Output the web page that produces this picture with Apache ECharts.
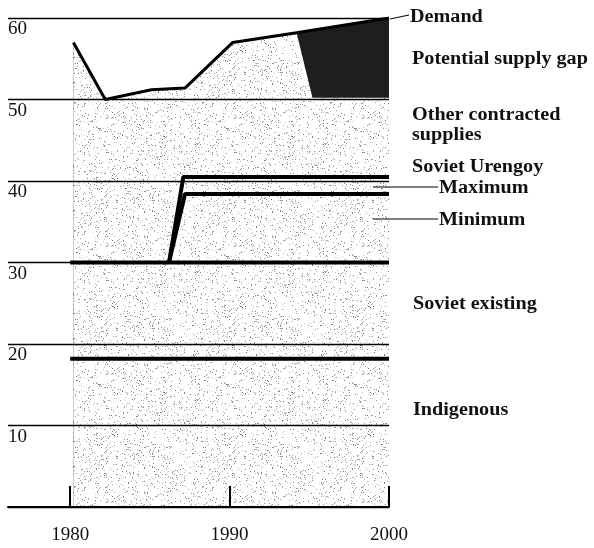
<!DOCTYPE html>
<html>
<head>
<meta charset="utf-8">
<script src="https://cdn.jsdelivr.net/npm/echarts@6/dist/echarts.min.js"></script>
<style>
html,body{margin:0;padding:0;background:#fff;}
#chart{width:594px;height:548px;}
</style>
</head>
<body>
<div id="chart"></div>
<script>
// ---- data ----
const demandYears = [1980.2, 1982.2, 1985.1, 1987.2, 1990.2, 1994.2, 2000];
const demandValues = [57, 50, 51.2, 51.4, 57, 58.2, 60];
const supplyYears = [1980.2, 1982.2, 1985.1, 1987.2, 1990.2, 1994.2, 1995.2, 2000];
const supplyValues = [57, 50, 51.2, 51.4, 57, 58.2, 50.2, 50.2];
const existingYears = [1980, 2000];
const existingValues = [30, 30];
const indigenousYears = [1980, 2000];
const indigenousValues = [18.2, 18.2];
const urengoyMaxYears = [1986.2, 1987.1, 2000];
const urengoyMaxValues = [30, 40.5, 40.5];
const urengoyMinYears = [1986.2, 1987.2, 2000];
const urengoyMinValues = [30, 38.4, 38.4];
const xTickValues = [1980, 1990, 2000];
const yTickValues = [10, 20, 30, 40, 50, 60];
const seriesLabels = ['Demand', 'Potential supply gap', 'Other contracted', 'supplies',
  'Soviet Urengoy', 'Maximum', 'Minimum', 'Soviet existing', 'Indigenous'];

function pairs(xs, ys) { return xs.map((x, i) => [x, ys[i]]); }

// stipple texture (styling only, deterministic hash)
function hash(x, y, k) {
  let h = Math.imul(x, 374761393) ^ Math.imul(y, 668265263) ^ Math.imul(k, 2246822519);
  h = Math.imul(h ^ (h >>> 13), 1274126177);
  h = h ^ (h >>> 16);
  return (h >>> 0) / 4294967296;
}
function stipple() {
  const n = 128;
  const c = document.createElement('canvas');
  c.width = n; c.height = n;
  const g = c.getContext('2d');
  g.fillStyle = '#ffffff'; g.fillRect(0, 0, n, n);
  for (let y = 0; y < n; y++) {
    for (let x = 0; x < n; x++) {
      if (hash(x, y, 1) < 0.085) {
        const v = Math.round(0x70 + hash(x, y, 2) * 0x68);
        g.fillStyle = 'rgb(' + v + ',' + v + ',' + v + ')';
        g.fillRect(x, y, 1, 1);
      }
    }
  }
  return c;
}

const FONT = 'Liberation Serif';
const chart = echarts.init(document.getElementById('chart'), null, {renderer: 'canvas'});

const thick = (name, xs, ys, w) => ({
  name, type: 'line', data: pairs(xs, ys), symbol: 'none', z: 5,
  lineStyle: {color: '#000', width: w}, silent: true
});

const labelStyle = {fontFamily: FONT, fontWeight: 'bold', fontSize: 18, fill: '#111'};
function txt(t, x, y) {
  return {type: 'text', x: x, y: y, scaleX: 1.12, style: Object.assign({text: t, textVerticalAlign: 'middle'}, labelStyle), z: 10};
}
function seg(x1, y1, x2, y2) {
  return {type: 'line', shape: {x1, y1, x2, y2}, style: {stroke: '#000', lineWidth: 1}, z: 10};
}

chart.setOption({
  animation: false,
  backgroundColor: '#fff',
  grid: {left: 8, right: 205, top: 18, bottom: 41},
  xAxis: {
    type: 'value', min: 1976.1, max: 2000, z: 10,
    axisLine: {show: true, lineStyle: {color: '#000', width: 2}},
    axisTick: {show: true, inside: true, length: 21, customValues: xTickValues, lineStyle: {color: '#000', width: 2}},
    axisLabel: {customValues: xTickValues, margin: 19, color: '#111', fontFamily: FONT, fontSize: 19,
      formatter: v => String(v)},
    splitLine: {show: false}
  },
  yAxis: {
    type: 'value', min: 0, max: 60, interval: 10, z: 10,
    axisLine: {show: false}, axisTick: {show: false},
    axisLabel: {
      inside: true, verticalAlign: 'top', margin: 0, padding: [2, 0, 0, 0], color: '#111', fontFamily: FONT, fontSize: 19,
      formatter: v => (yTickValues.indexOf(v) >= 0 ? String(v) : '')
    },
    splitLine: {show: true, lineStyle: {color: '#000', width: 1.3}}
  },
  series: [
    {name: 'gap', type: 'line', data: pairs(demandYears, demandValues), symbol: 'none', z: 2,
     lineStyle: {width: 0}, areaStyle: {color: '#1e1e1e', opacity: 1}, silent: true},
    {name: 'supply', type: 'line', data: pairs(supplyYears, supplyValues), symbol: 'none', z: 3,
     lineStyle: {width: 0}, areaStyle: {color: {image: stipple(), repeat: 'repeat'}, opacity: 1}, silent: true},
    thick('Demand', demandYears, demandValues, 3),
    thick('Soviet existing', existingYears, existingValues, 4),
    thick('Indigenous', indigenousYears, indigenousValues, 4),
    thick('Maximum', urengoyMaxYears, urengoyMaxValues, 4),
    thick('Minimum', urengoyMinYears, urengoyMinValues, 4)
  ],
  graphic: [
    seg(390, 19, 409, 15),
    txt(seriesLabels[0], 410, 17),
    txt(seriesLabels[1], 412, 59),
    txt(seriesLabels[2], 412, 115),
    txt(seriesLabels[3], 412, 135),
    txt(seriesLabels[4], 412, 167),
    seg(373, 187, 438, 187),
    txt(seriesLabels[5], 439, 188),
    seg(373, 219, 438, 219),
    txt(seriesLabels[6], 439, 220),
    txt(seriesLabels[7], 413, 304),
    txt(seriesLabels[8], 413, 410)
  ]
});
</script>
</body>
</html>
